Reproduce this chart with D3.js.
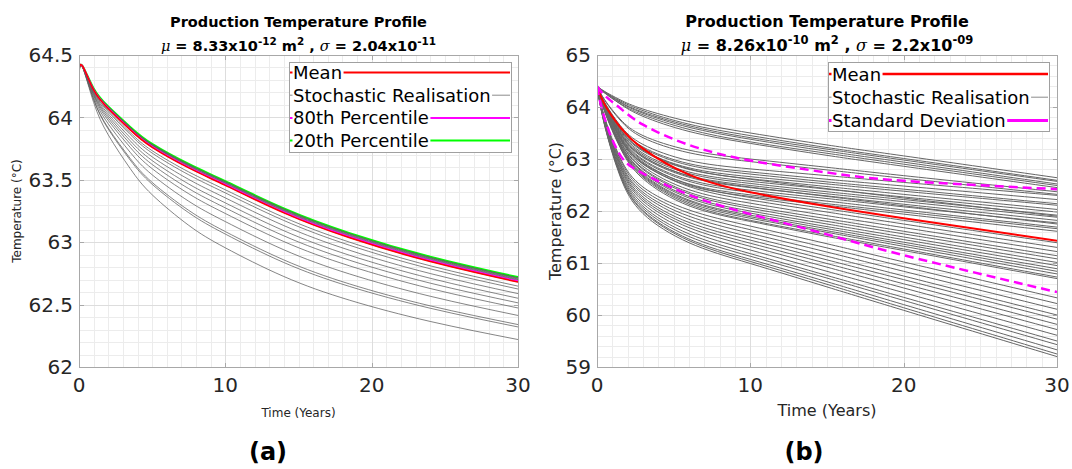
<!DOCTYPE html>
<html>
<head>
<meta charset="utf-8">
<script src="https://cdn.jsdelivr.net/npm/d3@7"></script>
<style>
  html, body { margin: 0; padding: 0; background: #ffffff; }
  svg { display: block; font-family: "DejaVu Sans", sans-serif; }
</style>
</head>
<body>
<svg id="chart" width="1072" height="469"></svg>
<script>
// ---------------- Panel (a): low-permeability case ----------------
const leftTimes = [0, 0.25, 1, 2, 3.5, 5, 7.5, 10, 14, 18.5, 24, 30];
const leftMean = [64.38, 64.41, 64.22, 64.07, 63.90, 63.76, 63.595, 63.455, 63.235, 63.035, 62.845, 62.68];
const leftP80  = [64.38, 64.41, 64.222, 64.074, 63.905, 63.766, 63.601, 63.462, 63.242, 63.043, 62.853, 62.688];
const leftP20  = [64.38, 64.41, 64.232, 64.088, 63.924, 63.788, 63.627, 63.489, 63.271, 63.073, 62.884, 62.72];
const leftRealisations = [
  [64.38, 64.41, 64.231, 64.086, 63.921, 63.785, 63.623, 63.485, 63.267, 63.068, 62.879, 62.715],
  [64.38, 64.41, 64.229, 64.084, 63.918, 63.781, 63.619, 63.481, 63.262, 63.064, 62.874, 62.71],
  [64.38, 64.41, 64.228, 64.081, 63.915, 63.778, 63.615, 63.476, 63.258, 63.059, 62.87, 62.705],
  [64.38, 64.41, 64.226, 64.079, 63.912, 63.774, 63.611, 63.472, 63.253, 63.054, 62.865, 62.70],
  [64.38, 64.41, 64.225, 64.077, 63.909, 63.771, 63.607, 63.468, 63.249, 63.049, 62.86, 62.695],
  [64.38, 64.41, 64.223, 64.075, 63.906, 63.767, 63.603, 63.464, 63.244, 63.045, 62.855, 62.69],
  [64.38, 64.41, 64.222, 64.072, 63.903, 63.764, 63.599, 63.459, 63.24, 63.04, 62.85, 62.685],
  [64.38, 64.41, 64.221, 64.071, 63.901, 63.762, 63.597, 63.457, 63.237, 63.037, 62.847, 62.682],
  [64.38, 64.41, 64.213, 64.055, 63.878, 63.733, 63.563, 63.42, 63.199, 63.0, 62.811, 62.648],
  [64.38, 64.41, 64.208, 64.045, 63.863, 63.714, 63.54, 63.395, 63.174, 62.975, 62.787, 62.625],
  [64.38, 64.41, 64.2, 64.028, 63.838, 63.684, 63.503, 63.355, 63.133, 62.935, 62.749, 62.588],
  [64.38, 64.41, 64.192, 64.011, 63.813, 63.654, 63.466, 63.315, 63.092, 62.895, 62.711, 62.551],
  [64.38, 64.405, 64.184, 63.994, 63.788, 63.623, 63.429, 63.275, 63.051, 62.855, 62.672, 62.514],
  [64.38, 64.405, 64.175, 63.975, 63.76, 63.589, 63.388, 63.23, 63.005, 62.81, 62.629, 62.473],
  [64.38, 64.40, 64.162, 63.948, 63.72, 63.54, 63.328, 63.165, 62.939, 62.745, 62.567, 62.413],
  [64.38, 64.40, 64.146, 63.915, 63.671, 63.479, 63.255, 63.085, 62.858, 62.665, 62.49, 62.34],
  [64.38, 64.40, 64.142, 63.906, 63.658, 63.464, 63.236, 63.065, 62.837, 62.645, 62.471, 62.321],
  [64.38, 64.40, 64.12, 63.86, 63.59, 63.38, 63.135, 62.955, 62.725, 62.535, 62.365, 62.22]
];
const leftYTicks = [62, 62.5, 63, 63.5, 64, 64.5];

// ---------------- Panel (b): high-permeability case ----------------
const rightTimes = [0, 0.5, 1.5, 3, 6, 10, 15, 20, 30];
const rightMean     = [64.4, 64.05, 63.62, 63.20, 62.70, 62.36, 62.09, 61.86, 61.43];
const rightStdUpper = [64.4, 64.22, 63.98, 63.66, 63.27, 62.97, 62.74, 62.58, 62.42];
const rightStdLower = [64.4, 63.78, 63.08, 62.72, 62.31, 61.94, 61.55, 61.15, 60.44];
const rightRealisations = [
  [64.4, 64.30, 64.14, 63.96, 63.72, 63.50, 63.27, 63.06, 62.64],
  [64.4, 64.29, 64.12, 63.93, 63.67, 63.45, 63.22, 63.01, 62.59],
  [64.4, 64.29, 64.10, 63.90, 63.64, 63.41, 63.19, 62.98, 62.57],
  [64.4, 64.28, 64.09, 63.88, 63.61, 63.38, 63.15, 62.94, 62.52],
  [64.4, 64.27, 64.07, 63.85, 63.57, 63.33, 63.11, 62.90, 62.49],
  [64.4, 64.27, 64.06, 63.82, 63.53, 63.30, 63.07, 62.86, 62.45],
  [64.4, 64.14, 63.77, 63.45, 63.17, 63.00, 62.84, 62.68, 62.37],
  [64.4, 64.13, 63.75, 63.41, 63.12, 62.95, 62.79, 62.63, 62.32],
  [64.4, 64.09, 63.65, 63.28, 62.97, 62.81, 62.68, 62.55, 62.30],
  [64.4, 64.08, 63.62, 63.23, 62.91, 62.75, 62.61, 62.48, 62.22],
  [64.4, 64.07, 63.61, 63.21, 62.88, 62.71, 62.56, 62.42, 62.14],
  [64.4, 64.06, 63.58, 63.17, 62.83, 62.66, 62.52, 62.38, 62.11],
  [64.4, 64.05, 63.56, 63.15, 62.80, 62.62, 62.47, 62.32, 62.03],
  [64.4, 64.04, 63.54, 63.11, 62.75, 62.57, 62.42, 62.27, 61.98],
  [64.4, 64.04, 63.52, 63.08, 62.72, 62.53, 62.37, 62.22, 61.92],
  [64.4, 64.03, 63.50, 63.05, 62.68, 62.49, 62.33, 62.18, 61.88],
  [64.4, 64.02, 63.48, 63.03, 62.65, 62.45, 62.29, 62.13, 61.82],
  [64.4, 64.01, 63.46, 62.99, 62.60, 62.40, 62.24, 62.08, 61.77],
  [64.4, 64.00, 63.44, 62.97, 62.57, 62.36, 62.19, 62.02, 61.69],
  [64.4, 63.99, 63.41, 62.92, 62.52, 62.31, 62.14, 61.98, 61.66],
  [64.4, 63.99, 63.40, 62.90, 62.49, 62.28, 62.11, 61.94, 61.61],
  [64.4, 64.03, 63.50, 63.05, 62.67, 62.46, 62.28, 62.10, 61.75],
  [64.4, 64.06, 63.58, 63.17, 62.81, 62.61, 62.43, 62.25, 61.90],
  [64.4, 64.00, 63.43, 62.94, 62.51, 62.26, 62.04, 61.82, 61.39],
  [64.4, 63.99, 63.41, 62.91, 62.47, 62.21, 61.98, 61.75, 61.30],
  [64.4, 63.98, 63.38, 62.86, 62.41, 62.15, 61.91, 61.68, 61.22],
  [64.4, 63.97, 63.35, 62.82, 62.36, 62.09, 61.85, 61.61, 61.14],
  [64.4, 63.96, 63.34, 62.80, 62.33, 62.05, 61.80, 61.56, 61.08],
  [64.4, 63.95, 63.31, 62.76, 62.28, 62.00, 61.75, 61.50, 61.01],
  [64.4, 63.94, 63.30, 62.74, 62.25, 61.96, 61.70, 61.45, 60.95],
  [64.4, 63.94, 63.28, 62.71, 62.21, 61.92, 61.66, 61.40, 60.89],
  [64.4, 63.93, 63.27, 62.69, 62.19, 61.89, 61.62, 61.36, 60.84],
  [64.4, 63.93, 63.25, 62.67, 62.16, 61.86, 61.59, 61.32, 60.79],
  [64.4, 63.92, 63.24, 62.65, 62.13, 61.82, 61.54, 61.27, 60.73],
  [64.4, 63.91, 63.22, 62.62, 62.10, 61.80, 61.51, 61.24, 60.70],
  [64.4, 63.80, 63.03, 62.46, 62.02, 61.71, 61.37, 61.02, 60.33],
  [64.4, 63.78, 63.00, 62.41, 61.96, 61.64, 61.29, 60.93, 60.22],
  [64.4, 63.77, 62.96, 62.36, 61.90, 61.57, 61.21, 60.84, 60.11],
  [64.4, 63.75, 62.93, 62.32, 61.84, 61.50, 61.13, 60.75, 60.00],
  [64.4, 63.74, 62.90, 62.27, 61.78, 61.44, 61.06, 60.68, 59.92],
  [64.4, 63.73, 62.87, 62.23, 61.73, 61.38, 60.99, 60.60, 59.82],
  [64.4, 63.72, 62.84, 62.19, 61.68, 61.32, 60.92, 60.52, 59.72],
  [64.4, 63.70, 62.80, 62.14, 61.62, 61.25, 60.84, 60.43, 59.61],
  [64.4, 63.68, 62.77, 62.09, 61.56, 61.18, 60.76, 60.34, 59.50],
  [64.4, 63.67, 62.74, 62.05, 61.51, 61.13, 60.71, 60.28, 59.43],
  [64.4, 63.66, 62.71, 62.01, 61.46, 61.07, 60.64, 60.20, 59.33],
  [64.4, 63.65, 62.70, 61.99, 61.43, 61.03, 60.59, 60.14, 59.25],
  [64.4, 63.64, 62.67, 61.95, 61.39, 60.99, 60.54, 60.09, 59.20]
];
const rightYTicks = [59, 60, 61, 62, 63, 64, 65];

const xTicks = [0, 10, 20, 30];
const xLabel = "Time (Years)";
const yLabel = "Temperature (\u00B0C)";
const titleText = "Production Temperature Profile";
// second title line: permeability mean and standard deviation (TeX-style pieces)
const leftStats  = [["\u03BC", "it"], [" = 8.33x10"], ["-12", "sup"], [" m"], ["2", "sup"], [" , "], ["\u03C3", "it"], [" = 2.04x10"], ["-11", "sup"]];
const rightStats = [["\u03BC", "it"], [" = 8.26x10"], ["-10", "sup"], [" m"], ["2", "sup"], [" , "], ["\u03C3", "it"], [" = 2.2x10"], ["-09", "sup"]];

const svg = d3.select("#chart");
const GRID_MAJOR = "#dddddd";
const GRID_MINOR = "#ececec";
const FRAME = "#a8a8a8";
const TEXT = "#262626";

function drawPanel(p) {
  const x = d3.scaleLinear().domain([0, 30]).range([p.x0, p.x1]);
  const y = d3.scaleLinear().domain(p.yDomain).range([p.y1, p.y0]);
  const g = svg.append("g");

  const clipId = "clip-" + p.tag;
  g.append("clipPath").attr("id", clipId)
    .append("rect").attr("x", p.x0).attr("y", p.y0)
    .attr("width", p.x1 - p.x0).attr("height", p.y1 - p.y0);

  // minor grid
  const xMinor = d3.range(1, 30, 1).filter(v => v % 10 !== 0);
  const yMinor = d3.range(p.yDomain[0], p.yDomain[1] + 1e-9, p.yMinorStep)
    .filter(v => !p.yTicks.some(t => Math.abs(t - v) < 1e-6));
  const grid = g.append("g").attr("shape-rendering", "crispEdges");
  grid.selectAll(".xm").data(xMinor).join("line")
    .attr("x1", d => Math.round(x(d)) + 0.5).attr("x2", d => Math.round(x(d)) + 0.5)
    .attr("y1", p.y0).attr("y2", p.y1).attr("stroke", GRID_MINOR);
  grid.selectAll(".ym").data(yMinor).join("line")
    .attr("y1", d => Math.round(y(d)) + 0.5).attr("y2", d => Math.round(y(d)) + 0.5)
    .attr("x1", p.x0).attr("x2", p.x1).attr("stroke", GRID_MINOR);
  // major grid
  grid.selectAll(".xM").data(xTicks.slice(1, -1)).join("line")
    .attr("x1", d => Math.round(x(d)) + 0.5).attr("x2", d => Math.round(x(d)) + 0.5)
    .attr("y1", p.y0).attr("y2", p.y1).attr("stroke", GRID_MAJOR);
  grid.selectAll(".yM").data(p.yTicks.slice(1, -1)).join("line")
    .attr("y1", d => Math.round(y(d)) + 0.5).attr("y2", d => Math.round(y(d)) + 0.5)
    .attr("x1", p.x0).attr("x2", p.x1).attr("stroke", GRID_MAJOR);

  // curves
  const lineGen = d3.line()
    .x((d, i) => x(p.times[i]))
    .y(d => y(d))
    .curve(d3.curveNatural);
  const curves = g.append("g").attr("clip-path", `url(#${clipId})`).attr("fill", "none");
  p.under.forEach(s => {
    curves.append("path").attr("d", lineGen(s.values))
      .attr("stroke", s.color).attr("stroke-width", s.width)
      .attr("stroke-dasharray", s.dash || null);
  });
  curves.selectAll(".real").data(p.realisations).join("path")
    .attr("d", d => lineGen(d))
    .attr("stroke", p.grayColor).attr("stroke-width", p.grayWidth);
  p.over.forEach(s => {
    curves.append("path").attr("d", lineGen(s.values))
      .attr("stroke", s.color).attr("stroke-width", s.width)
      .attr("stroke-dasharray", s.dash || null);
  });

  // frame + inward ticks
  const frame = g.append("g").attr("shape-rendering", "crispEdges").attr("stroke", FRAME);
  frame.append("rect").attr("x", p.x0 + 0.5).attr("y", p.y0 + 0.5)
    .attr("width", p.x1 - p.x0).attr("height", p.y1 - p.y0).attr("fill", "none");
  const tl = 4.5;
  xTicks.forEach(t => {
    const xx = Math.round(x(t)) + 0.5;
    frame.append("line").attr("x1", xx).attr("x2", xx).attr("y1", p.y1).attr("y2", p.y1 - tl);
    frame.append("line").attr("x1", xx).attr("x2", xx).attr("y1", p.y0).attr("y2", p.y0 + tl);
  });
  p.yTicks.forEach(t => {
    const yy = Math.round(y(t)) + 0.5;
    frame.append("line").attr("y1", yy).attr("y2", yy).attr("x1", p.x0).attr("x2", p.x0 + tl);
    frame.append("line").attr("y1", yy).attr("y2", yy).attr("x1", p.x1).attr("x2", p.x1 - tl);
  });

  // tick labels
  g.append("g").selectAll("text").data(xTicks).join("text")
    .attr("x", d => x(d)).attr("y", 392).attr("text-anchor", "middle")
    .attr("font-size", p.tickSize).attr("fill", TEXT).text(d => d3.format("~g")(d));
  g.append("g").selectAll("text").data(p.yTicks).join("text")
    .attr("x", p.x0 - 6).attr("y", d => y(d)).attr("dy", "0.36em").attr("text-anchor", "end")
    .attr("font-size", p.tickSize).attr("fill", TEXT).text(d => d3.format("~g")(d));

  // axis labels
  const cx = (p.x0 + p.x1) / 2, cy = (p.y0 + p.y1) / 2;
  g.append("text").attr("x", cx).attr("y", p.xLabelY).attr("text-anchor", "middle")
    .attr("font-size", p.labelSize).attr("fill", TEXT).text(xLabel);
  g.append("text").attr("transform", `translate(${p.yLabelX},${cy}) rotate(-90)`)
    .attr("text-anchor", "middle").attr("font-size", p.labelSize).attr("fill", TEXT).text(yLabel);

  // title
  g.append("text").attr("x", cx).attr("y", 27).attr("text-anchor", "middle")
    .attr("font-size", p.titleSize).attr("font-weight", "bold").attr("fill", "#000").text(titleText);
  const t2 = g.append("text").attr("x", cx).attr("y", 51).attr("text-anchor", "middle")
    .attr("font-size", p.titleSize).attr("font-weight", "bold").attr("fill", "#000");
  let shifted = false;
  const shift = Math.round(p.titleSize * 0.42);
  p.stats.forEach(([str, kind]) => {
    const ts = t2.append("tspan").text(str);
    if (kind === "sup") {
      ts.attr("font-size", p.titleSize * 0.72).attr("dy", -shift);
      shifted = true;
    } else {
      if (shifted) { ts.attr("dy", shift); shifted = false; }
      if (kind === "it") ts.attr("font-family", "DejaVu Serif").attr("font-style", "italic").attr("font-weight", "normal");
    }
  });

  // legend
  const lg = g.append("g");
  const lb = p.legend;
  lg.append("rect").attr("x", lb.x0 + 0.5).attr("y", lb.y0 + 0.5)
    .attr("width", lb.x1 - lb.x0).attr("height", lb.y1 - lb.y0)
    .attr("fill", "#ffffff").attr("stroke", "#a0a0a0").attr("shape-rendering", "crispEdges");
  lb.items.forEach((it, i) => {
    const ry = lb.rowY + i * lb.rowGap;
    lg.append("line").attr("x1", lb.x0 + 1).attr("x2", lb.x1 - 1).attr("y1", ry).attr("y2", ry)
      .attr("stroke", it.color).attr("stroke-width", it.width);
    const bg = lg.append("rect").attr("fill", "#ffffff");
    const tx = lg.append("text").attr("x", lb.textX).attr("y", ry + 6.5)
      .attr("font-size", 18).attr("fill", "#000").text(it.label);
    const bb = tx.node().getBBox();
    bg.attr("x", bb.x - 0.5).attr("y", ry - 4).attr("width", bb.width + 2).attr("height", 8);
  });

  // panel tag
  svg.append("text").attr("x", p.tagX).attr("y", 460).attr("text-anchor", "middle")
    .attr("font-size", 24).attr("font-weight", "bold").attr("fill", "#000").text(`(${p.tag})`);
}

drawPanel({
  tag: "a", x0: 79, x1: 518, y0: 55, y1: 367,
  yDomain: [62, 64.5], yTicks: leftYTicks, yMinorStep: 0.1,
  times: leftTimes, realisations: leftRealisations,
  grayColor: "#5c5c5c", grayWidth: 0.75,
  under: [{ values: leftP20, color: "#00ff00", width: 2 }],
  over: [
    { values: leftP80, color: "#ff00ff", width: 1.5 },
    { values: leftMean, color: "#ff0000", width: 1.5 }
  ],
  tickSize: 20, labelSize: 12, titleSize: 14.5,
  xLabelY: 417, yLabelX: 21, stats: leftStats, tagX: 268,
  legend: {
    x0: 289, x1: 511, y0: 62, y1: 152, textX: 293, rowY: 72.5, rowGap: 22.7,
    items: [
      { label: "Mean", color: "#ff0000", width: 2 },
      { label: "Stochastic Realisation", color: "#8c8c8c", width: 1 },
      { label: "80th Percentile", color: "#ff00ff", width: 2 },
      { label: "20th Percentile", color: "#00ff00", width: 2 }
    ]
  }
});

drawPanel({
  tag: "b", x0: 597, x1: 1057, y0: 55, y1: 367,
  yDomain: [59, 65], yTicks: rightYTicks, yMinorStep: 0.2,
  times: rightTimes, realisations: rightRealisations,
  grayColor: "#666666", grayWidth: 1,
  under: [],
  over: [
    { values: rightMean, color: "#ff0000", width: 2 },
    { values: rightStdUpper, color: "#ff00ff", width: 2.5, dash: "9,5" },
    { values: rightStdLower, color: "#ff00ff", width: 2.5, dash: "9,5" }
  ],
  tickSize: 20, labelSize: 16, titleSize: 16,
  xLabelY: 416, yLabelX: 561, stats: rightStats, tagX: 804,
  legend: {
    x0: 828, x1: 1049, y0: 62, y1: 131, textX: 832, rowY: 74, rowGap: 23.2,
    items: [
      { label: "Mean", color: "#ff0000", width: 2.5 },
      { label: "Stochastic Realisation", color: "#8c8c8c", width: 1 },
      { label: "Standard Deviation", color: "#ff00ff", width: 3 }
    ]
  }
});
</script>
</body>
</html>
